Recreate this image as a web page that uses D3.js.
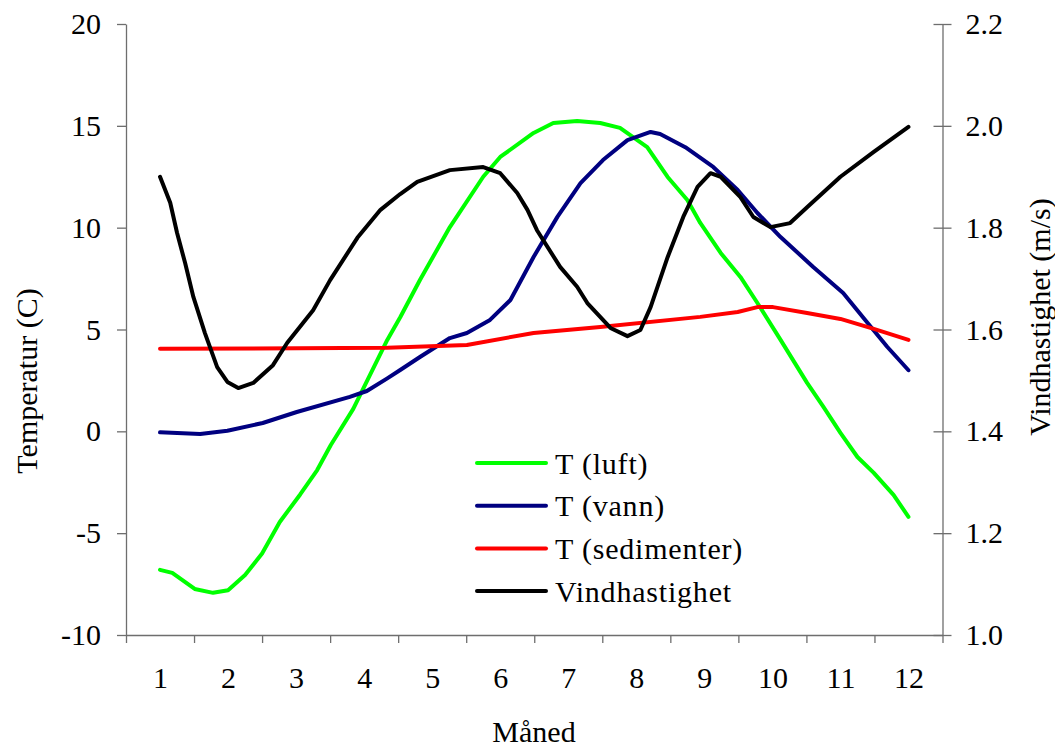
<!DOCTYPE html>
<html>
<head>
<meta charset="utf-8">
<script src="https://cdn.jsdelivr.net/npm/d3@7"></script>
<style>
  html, body { margin: 0; padding: 0; background: #fff; }
  svg { display: block; }
  text { font-family: "Liberation Serif", "Times New Roman", serif; fill: #000; }
</style>
</head>
<body>
<svg id="chart" width="1055" height="749"></svg>
<script>
// ---------- data ----------
const monthLabels = ["1","2","3","4","5","6","7","8","9","10","11","12"];
const tempTicks = [-10, -5, 0, 5, 10, 15, 20];
const windTicks = [1.0, 1.2, 1.4, 1.6, 1.8, 2.0, 2.2];

const luftMonth = [1.00,1.18,1.51,1.78,2.00,2.25,2.50,2.76,3.06,3.31,3.51,3.84,4.34,4.53,4.82,5.26,5.75,6.00,6.49,6.78,7.13,7.47,7.76,8.16,8.46,8.75,8.94,9.24,9.53,9.78,10.12,10.51,10.75,11.00,11.25,11.49,11.78,12.00];
const luftT     = [-6.8,-6.95,-7.74,-7.93,-7.8,-7.05,-6.0,-4.45,-3.1,-1.9,-0.67,1.1,4.49,5.6,7.43,10.03,12.5,13.47,14.65,15.14,15.24,15.14,14.9,13.96,12.49,11.36,10.23,8.76,7.58,6.3,4.49,2.38,1.2,-0.08,-1.26,-2.04,-3.12,-4.2];

const vannMonth = [1.00,1.59,1.99,2.51,3.01,3.79,4.04,4.34,4.53,4.82,5.26,5.51,5.85,6.15,6.49,6.84,7.18,7.51,7.87,8.21,8.35,8.72,9.13,9.49,9.78,10.12,10.60,11.04,11.40,11.69,12.00];
const vannT     = [-0.05,-0.13,0.03,0.41,0.95,1.69,1.98,2.6,3.01,3.65,4.58,4.83,5.47,6.45,8.56,10.53,12.19,13.32,14.3,14.7,14.6,13.95,12.98,11.85,10.72,9.54,8.07,6.79,5.32,4.14,3.0];

const sedMonth = [1.00,4.34,5.51,6.49,7.47,8.94,9.49,9.78,10.01,10.51,11.00,11.49,12.00];
const sedT     = [4.05,4.1,4.24,4.83,5.12,5.62,5.86,6.1,6.1,5.81,5.52,5.03,4.49];

const vindMonth = [1.00,1.15,1.25,1.37,1.49,1.66,1.84,1.99,2.15,2.37,2.66,2.87,3.25,3.50,3.90,4.24,4.53,4.78,5.26,5.75,6.00,6.25,6.40,6.54,6.88,7.13,7.28,7.62,7.87,8.06,8.21,8.46,8.69,8.90,9.09,9.24,9.53,9.72,9.97,10.26,10.51,11.00,11.49,12.00];
const vindV     = [1.90,1.849,1.79,1.73,1.664,1.593,1.526,1.497,1.485,1.495,1.53,1.574,1.638,1.697,1.78,1.835,1.866,1.89,1.913,1.919,1.907,1.868,1.835,1.795,1.723,1.684,1.652,1.603,1.587,1.599,1.644,1.742,1.821,1.88,1.907,1.9,1.86,1.821,1.801,1.809,1.84,1.9,1.949,1.998];

const seriesNames  = ["T (luft)", "T (vann)", "T (sedimenter)", "Vindhastighet"];
const seriesColors = ["#00ff00", "#000080", "#ff0000", "#000000"];

// ---------- layout ----------
const svg = d3.select("#chart");
const L = 126, R = 942.5, T = 24, B = 635;
const FS = 30;
const axisColor = "#6e6e6e";

const x = d3.scaleLinear().domain([0.5, 12.5]).range([L, R]);
const yL = d3.scaleLinear().domain([-10, 20]).range([B, T]);
const yR = d3.scaleLinear().domain([1.0, 2.2]).range([B, T]);

// x axis: boundary ticks
const boundaries = d3.range(0, 13).map(i => i + 0.5);
const gx = svg.append("g").attr("transform", `translate(0,${B})`)
  .call(d3.axisBottom(x).tickValues(boundaries).tickFormat("").tickSizeInner(8).tickSizeOuter(0));
gx.select(".domain").attr("stroke", axisColor).attr("stroke-width", 1.3);
gx.selectAll(".tick line").attr("stroke", axisColor).attr("stroke-width", 1.3);

// x labels
const gxl = svg.append("g").attr("transform", `translate(0,${B})`)
  .call(d3.axisBottom(x).tickValues(d3.range(1, 13)).tickFormat((d, i) => monthLabels[i]).tickSize(0).tickPadding(32));
gxl.select(".domain").remove();
gxl.selectAll("text").style("font-size", FS + "px").style("font-family", "Liberation Serif");

// left axis
const gl = svg.append("g").attr("transform", `translate(${L},0)`)
  .call(d3.axisLeft(yL).tickValues(tempTicks).tickFormat(d => String(d)).tickSizeInner(9).tickSizeOuter(0).tickPadding(16));
gl.select(".domain").attr("stroke", axisColor).attr("stroke-width", 1.3);
gl.selectAll(".tick line").attr("stroke", axisColor).attr("stroke-width", 1.3);
gl.selectAll("text").style("font-size", FS + "px").style("font-family", "Liberation Serif");

// right axis (cross ticks)
const gr = svg.append("g").attr("transform", `translate(${R},0)`)
  .call(d3.axisRight(yR).tickValues(windTicks).tickFormat(d => d.toFixed(1)).tickSizeInner(9).tickSizeOuter(0).tickPadding(14));
gr.select(".domain").attr("stroke", axisColor).attr("stroke-width", 1.3);
gr.selectAll(".tick line").attr("x1", -9).attr("x2", 9).attr("stroke", axisColor).attr("stroke-width", 1.3);
gr.selectAll("text").style("font-size", FS + "px").style("font-family", "Liberation Serif");

// axis titles
svg.append("text").attr("x", 534).attr("y", 742)
  .attr("text-anchor", "middle").style("font-size", FS + "px").text("Måned");
svg.append("text").attr("transform", "translate(37,381) rotate(-90)")
  .attr("text-anchor", "middle").style("font-size", FS + "px").text("Temperatur (C)");
svg.append("text").attr("transform", "translate(1050,317) rotate(-90)")
  .attr("text-anchor", "middle").style("font-size", FS + "px").text("Vindhastighet (m/s)");

// lines
const mk = (ms, vs) => ms.map((m, i) => ({ m, v: vs[i] }));
const lineL = d3.line().x(d => x(d.m)).y(d => yL(d.v));
const lineR = d3.line().x(d => x(d.m)).y(d => yR(d.v));

const series = [
  { data: mk(luftMonth, luftT), line: lineL },
  { data: mk(vannMonth, vannT), line: lineL },
  { data: mk(sedMonth, sedT), line: lineL },
  { data: mk(vindMonth, vindV), line: lineR }
];
series.forEach((s, i) => {
  svg.append("path").datum(s.data)
    .attr("d", s.line)
    .attr("fill", "none")
    .attr("stroke", seriesColors[i])
    .attr("stroke-width", 4)
    .attr("stroke-linejoin", "round")
    .attr("stroke-linecap", "round");
});

// legend
const lg = svg.append("g");
const legY0 = 463, legDY = 42.7;
seriesNames.forEach((name, i) => {
  const yy = legY0 + i * legDY;
  lg.append("line").attr("x1", 477).attr("x2", 546).attr("y1", yy).attr("y2", yy)
    .attr("stroke", seriesColors[i]).attr("stroke-width", 4).attr("stroke-linecap", "round");
  lg.append("text").attr("x", 555).attr("y", yy).attr("dy", "0.35em")
    .style("font-size", FS + "px").style("letter-spacing", "0.8px").text(name);
});
</script>
</body>
</html>
